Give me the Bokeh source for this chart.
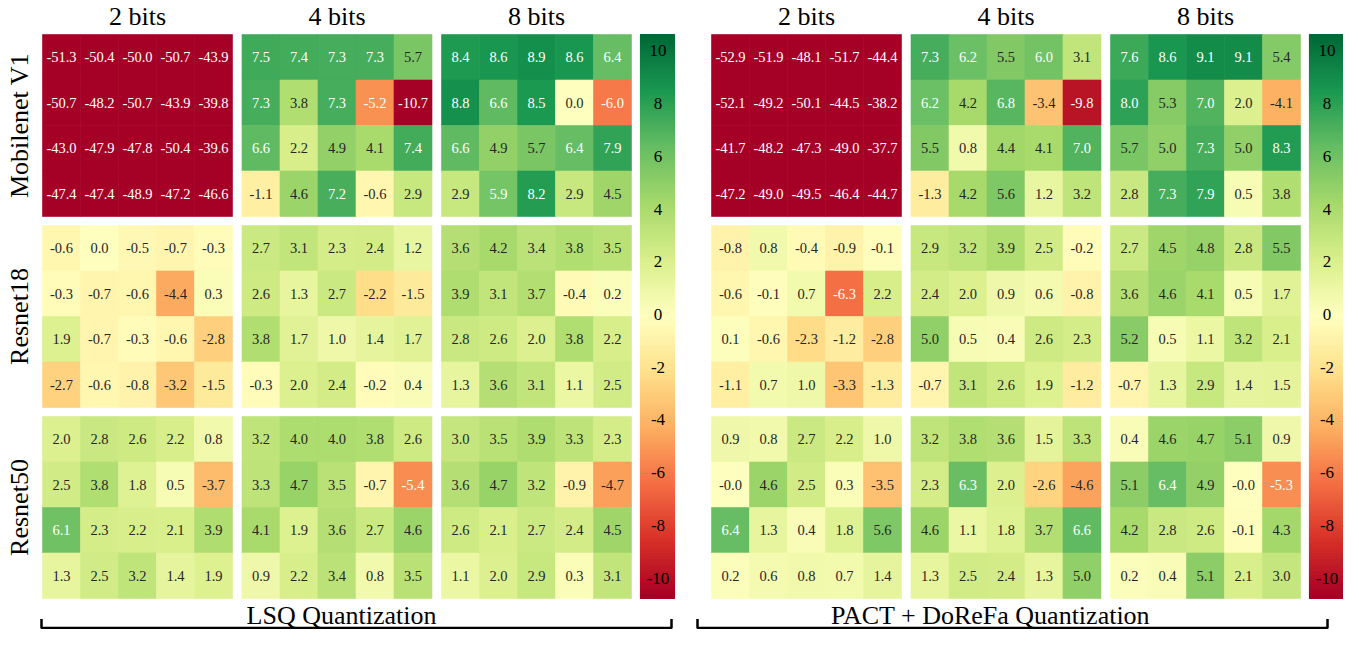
import math
import numpy as np
from bokeh.plotting import figure
from bokeh.models import ColumnDataSource, LinearColorMapper, Range1d
from bokeh.transform import transform
from bokeh.core.properties import value
from bokeh.embed import file_html
from bokeh.resources import INLINE

# ---------------- data ----------------
methods = ["LSQ Quantization", "PACT + DoReFa Quantization"]
bit_labels = ["2 bits", "4 bits", "8 bits"]
models = ["Mobilenet V1", "Resnet18", "Resnet50"]

lsq_mobilenet_2 = [[-51.3, -50.4, -50.0, -50.7, -43.9], [-50.7, -48.2, -50.7, -43.9, -39.8],
                   [-43.0, -47.9, -47.8, -50.4, -39.6], [-47.4, -47.4, -48.9, -47.2, -46.6]]
lsq_mobilenet_4 = [[7.5, 7.4, 7.3, 7.3, 5.7], [7.3, 3.8, 7.3, -5.2, -10.7],
                   [6.6, 2.2, 4.9, 4.1, 7.4], [-1.1, 4.6, 7.2, -0.6, 2.9]]
lsq_mobilenet_8 = [[8.4, 8.6, 8.9, 8.6, 6.4], [8.8, 6.6, 8.5, 0.0, -6.0],
                   [6.6, 4.9, 5.7, 6.4, 7.9], [2.9, 5.9, 8.2, 2.9, 4.5]]
lsq_resnet18_2 = [[-0.6, 0.0, -0.5, -0.7, -0.3], [-0.3, -0.7, -0.6, -4.4, 0.3],
                  [1.9, -0.7, -0.3, -0.6, -2.8], [-2.7, -0.6, -0.8, -3.2, -1.5]]
lsq_resnet18_4 = [[2.7, 3.1, 2.3, 2.4, 1.2], [2.6, 1.3, 2.7, -2.2, -1.5],
                  [3.8, 1.7, 1.0, 1.4, 1.7], [-0.3, 2.0, 2.4, -0.2, 0.4]]
lsq_resnet18_8 = [[3.6, 4.2, 3.4, 3.8, 3.5], [3.9, 3.1, 3.7, -0.4, 0.2],
                  [2.8, 2.6, 2.0, 3.8, 2.2], [1.3, 3.6, 3.1, 1.1, 2.5]]
lsq_resnet50_2 = [[2.0, 2.8, 2.6, 2.2, 0.8], [2.5, 3.8, 1.8, 0.5, -3.7],
                  [6.1, 2.3, 2.2, 2.1, 3.9], [1.3, 2.5, 3.2, 1.4, 1.9]]
lsq_resnet50_4 = [[3.2, 4.0, 4.0, 3.8, 2.6], [3.3, 4.7, 3.5, -0.7, -5.4],
                  [4.1, 1.9, 3.6, 2.7, 4.6], [0.9, 2.2, 3.4, 0.8, 3.5]]
lsq_resnet50_8 = [[3.0, 3.5, 3.9, 3.3, 2.3], [3.6, 4.7, 3.2, -0.9, -4.7],
                  [2.6, 2.1, 2.7, 2.4, 4.5], [1.1, 2.0, 2.9, 0.3, 3.1]]

pact_mobilenet_2 = [[-52.9, -51.9, -48.1, -51.7, -44.4], [-52.1, -49.2, -50.1, -44.5, -38.2],
                    [-41.7, -48.2, -47.3, -49.0, -37.7], [-47.2, -49.0, -49.5, -46.4, -44.7]]
pact_mobilenet_4 = [[7.3, 6.2, 5.5, 6.0, 3.1], [6.2, 4.2, 6.8, -3.4, -9.8],
                    [5.5, 0.8, 4.4, 4.1, 7.0], [-1.3, 4.2, 5.6, 1.2, 3.2]]
pact_mobilenet_8 = [[7.6, 8.6, 9.1, 9.1, 5.4], [8.0, 5.3, 7.0, 2.0, -4.1],
                    [5.7, 5.0, 7.3, 5.0, 8.3], [2.8, 7.3, 7.9, 0.5, 3.8]]
pact_resnet18_2 = [[-0.8, 0.8, -0.4, -0.9, -0.1], [-0.6, -0.1, 0.7, -6.3, 2.2],
                   [0.1, -0.6, -2.3, -1.2, -2.8], [-1.1, 0.7, 1.0, -3.3, -1.3]]
pact_resnet18_4 = [[2.9, 3.2, 3.9, 2.5, -0.2], [2.4, 2.0, 0.9, 0.6, -0.8],
                   [5.0, 0.5, 0.4, 2.6, 2.3], [-0.7, 3.1, 2.6, 1.9, -1.2]]
pact_resnet18_8 = [[2.7, 4.5, 4.8, 2.8, 5.5], [3.6, 4.6, 4.1, 0.5, 1.7],
                   [5.2, 0.5, 1.1, 3.2, 2.1], [-0.7, 1.3, 2.9, 1.4, 1.5]]
pact_resnet50_2 = [[0.9, 0.8, 2.7, 2.2, 1.0], [-0.0, 4.6, 2.5, 0.3, -3.5],
                   [6.4, 1.3, 0.4, 1.8, 5.6], [0.2, 0.6, 0.8, 0.7, 1.4]]
pact_resnet50_4 = [[3.2, 3.8, 3.6, 1.5, 3.3], [2.3, 6.3, 2.0, -2.6, -4.6],
                   [4.6, 1.1, 1.8, 3.7, 6.6], [1.3, 2.5, 2.4, 1.3, 5.0]]
pact_resnet50_8 = [[0.4, 4.6, 4.7, 5.1, 0.9], [5.1, 6.4, 4.9, -0.0, -5.3],
                   [4.2, 2.8, 2.6, -0.1, 4.3], [0.2, 0.4, 5.1, 2.1, 3.0]]

lsq_panels = [[lsq_mobilenet_2, lsq_mobilenet_4, lsq_mobilenet_8],
              [lsq_resnet18_2, lsq_resnet18_4, lsq_resnet18_8],
              [lsq_resnet50_2, lsq_resnet50_4, lsq_resnet50_8]]
pact_panels = [[pact_mobilenet_2, pact_mobilenet_4, pact_mobilenet_8],
               [pact_resnet18_2, pact_resnet18_4, pact_resnet18_8],
               [pact_resnet50_2, pact_resnet50_4, pact_resnet50_8]]
all_panels = [lsq_panels, pact_panels]

cbar_ticks = [10, 8, 6, 4, 2, 0, -2, -4, -6, -8, -10]
vmin, vmax = -10.7, 10.7

# ---------------- style / layout ----------------
FONT = "Liberation Serif"
anchors = ['#a50026', '#d73027', '#f46d43', '#fdae61', '#fee08b', '#ffffbf',
           '#d9ef8b', '#a6d96a', '#66bd63', '#1a9850', '#006837']
arr = np.array([[int(c[i:i + 2], 16) for i in (1, 3, 5)] for c in anchors], dtype=float)
pos = np.linspace(0, 1, len(anchors))
tt = np.linspace(0, 1, 256)
palette = ["#%02x%02x%02x" % tuple(int(round(np.interp(t, pos, arr[:, k]))) for k in range(3)) for t in tt]
mapper = LinearColorMapper(palette=palette, low=vmin, high=vmax)

group_x0 = [48, 717]
panel_step = 199.5
cell_w = 38.0
row_y0 = [40, 231, 422]
cell_h = 45.5
n_rows, n_cols = 4, 5
panel_w = cell_w * n_cols
panel_h = cell_h * n_rows
cb_gap, cb_w = 9, 34
cb_top, cb_bot = row_y0[0], row_y0[-1] + panel_h

p = figure(width=1343, height=629, x_range=Range1d(6, 1349), y_range=Range1d(635, 6),
           output_backend="svg", toolbar_location=None, min_border=0,
           x_axis_location=None, y_axis_location=None)
p.outline_line_color = None
p.grid.visible = False
p.background_fill_color = "white"
p.border_fill_color = "white"

xs, ys, vals, labels, tcols = [], [], [], [], []
for g, panels in enumerate(all_panels):
    for mi, model_rows in enumerate(panels):
        for bi, grid in enumerate(model_rows):
            x0 = group_x0[g] + bi * panel_step
            y0 = row_y0[mi]
            for r, row in enumerate(grid):
                for c, v in enumerate(row):
                    xs.append(x0 + (c + 0.5) * cell_w)
                    ys.append(y0 + (r + 0.5) * cell_h)
                    vals.append(v)
                    labels.append(f"{v:.1f}")
                    tcols.append("white" if (v > 5.75 or v < -5.0) else "#262626")

src = ColumnDataSource(dict(x=xs, y=ys, v=vals, label=labels, tc=tcols))
p.rect(x="x", y="y", width=cell_w, height=cell_h, source=src,
       fill_color=transform("v", mapper), line_color=transform("v", mapper), line_width=0.6)
p.text(x="x", y="y", text="label", source=src, text_color="tc",
       text_font=value(FONT), text_font_size="14.5px",
       text_align="center", text_baseline="middle")

# colorbars
n_seg = 256
seg_vals = np.linspace(vmax, vmin, n_seg)
seg_h = (cb_bot - cb_top) / n_seg
for g in range(2):
    cbx = group_x0[g] + 2 * panel_step + panel_w + cb_gap + cb_w / 2
    seg_y = [cb_top + (i + 0.5) * seg_h for i in range(n_seg)]
    cs = ColumnDataSource(dict(x=[cbx] * n_seg, y=seg_y, v=list(seg_vals)))
    p.rect(x="x", y="y", width=cb_w, height=seg_h, source=cs,
           fill_color=transform("v", mapper), line_color=transform("v", mapper), line_width=1.2)
    ty = [cb_top + (vmax - t) / (vmax - vmin) * (cb_bot - cb_top) - 2 for t in cbar_ticks]
    p.text(x=[cbx + 0.5] * len(cbar_ticks), y=ty, text=[str(t) for t in cbar_ticks],
           text_color="black", text_font=value(FONT), text_font_size="17px",
           text_align="center", text_baseline="middle")

# column titles
for g in range(2):
    tx = [group_x0[g] + bi * panel_step + panel_w / 2 for bi in range(3)]
    p.text(x=tx, y=[22] * 3, text=bit_labels, text_color="black",
           text_font=value(FONT), text_font_size="26px",
           text_align="center", text_baseline="alphabetic")

# row labels
p.text(x=[25] * 3, y=[y + panel_h / 2 for y in row_y0], text=models, angle=math.pi / 2,
       text_color="black", text_font=value(FONT), text_font_size="26px",
       text_align="center", text_baseline="alphabetic")

# bottom method labels and brackets
bracket_x = [(47, 677), (703, 1333)]
label_cx = [347, 996]
for g in range(2):
    xa, xb = bracket_x[g]
    p.line(x=[xa, xa, xb, xb], y=[624.5, 633.5, 633.5, 624.5], line_color="black", line_width=2.5)
    p.text(x=[label_cx[g]], y=[621], text=[methods[g]], text_color="black",
           text_font=value(FONT), text_font_size="26px",
           text_align="center", text_baseline="alphabetic")

open("out.html", "w").write(file_html(p, INLINE))
